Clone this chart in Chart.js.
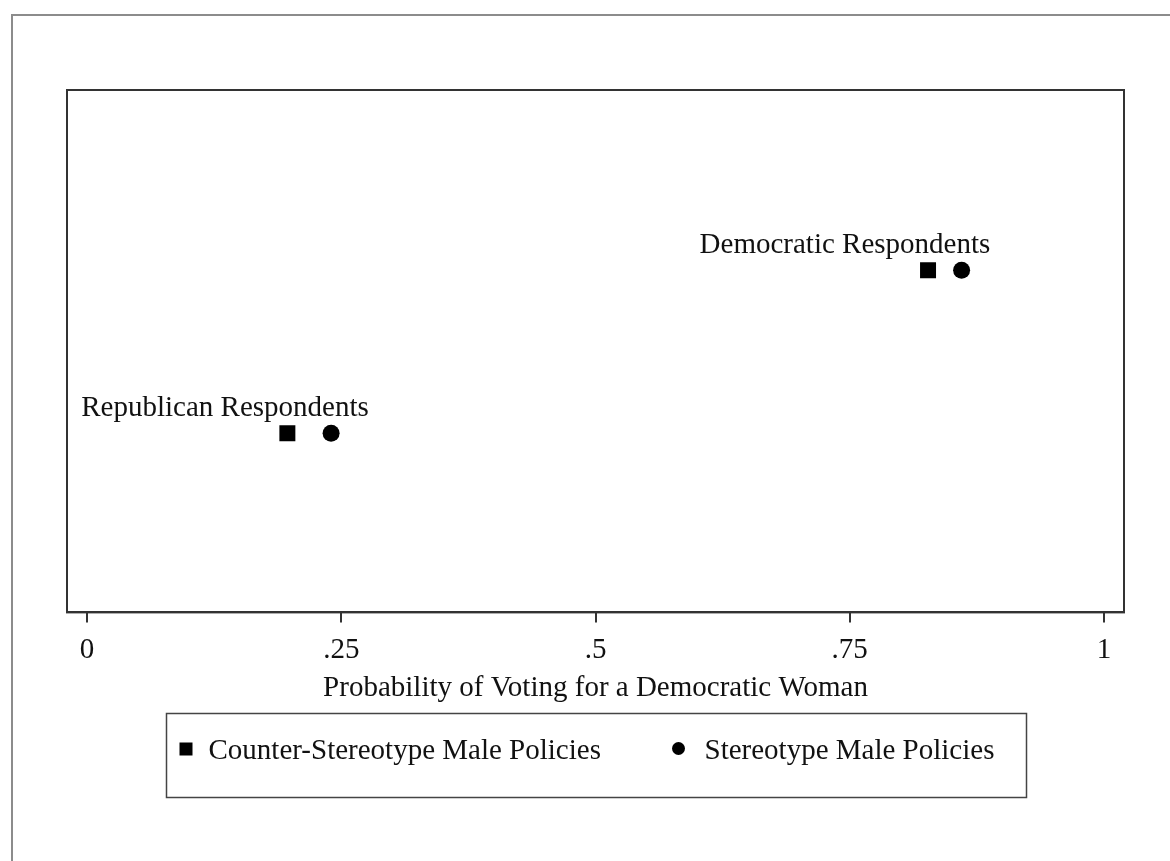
<!DOCTYPE html>
<html>
<head>
<meta charset="utf-8">
<script src="https://cdn.jsdelivr.net/npm/chart.js@4"></script>
<style>
  html, body { margin: 0; padding: 0; background: #fff; }
  #wrap { position: relative; width: 1170px; height: 861px; overflow: hidden; }
  #frame { position: absolute; left: 11px; top: 14px; width: 1300px; height: 1000px;
           border-top: 2px solid #8c8c8c; border-left: 2px solid #8c8c8c; }
  canvas { position: absolute; left: 0; top: 0; }
</style>
</head>
<body>
<div id="wrap">
  <div id="frame"></div>
  <canvas id="c" width="1170" height="861"></canvas>
</div>
<script>
// ---- data ----
const groups = ["Republican Respondents", "Democratic Respondents"];
const groupY = [0.343, 0.655];
const counterStereotype = [0.197, 0.827];
const stereotype = [0.240, 0.860];
const seriesNames = ["Counter-Stereotype Male Policies", "Stereotype Male Policies"];
const tickValues = [0, 0.25, 0.5, 0.75, 1];
const tickLabels = ["0", ".25", ".5", ".75", "1"];
const labelX = [0.1357, 0.7453];
const labelY = [0.391, 0.703];
const xTitle = "Probability of Voting for a Democratic Woman";

const FONT = "'Liberation Serif', 'Times New Roman', serif";
const FS = 29;
const INK = "#111";

const groupLabels = {
  id: 'groupLabels',
  afterDatasetsDraw(chart) {
    const {ctx, scales: {x, y}} = chart;
    ctx.save();
    ctx.font = FS + "px " + FONT;
    ctx.fillStyle = INK;
    ctx.textAlign = 'center';
    ctx.textBaseline = 'middle';
    groups.forEach((g, i) => {
      ctx.fillText(g, x.getPixelForValue(labelX[i]), y.getPixelForValue(labelY[i]));
    });
    ctx.restore();
  }
};

const plotBox = {
  id: 'plotBox',
  afterDraw(chart) {
    const {ctx, chartArea: a} = chart;
    ctx.save();
    ctx.strokeStyle = "#333";
    ctx.lineWidth = 2;
    ctx.strokeRect(a.left, a.top, a.right - a.left, a.bottom - a.top);
    ctx.restore();
  }
};

const boxLegend = {
  id: 'boxLegend',
  afterDraw(chart) {
    const {ctx, chartArea: a} = chart;
    const w = 860, h = 84;
    const cx = (a.left + a.right) / 2;
    const left = Math.round(cx - w / 2) + 0.5;
    const top = Math.round(a.bottom + 101) + 0.5;
    ctx.save();
    ctx.strokeStyle = "#444";
    ctx.lineWidth = 1.5;
    ctx.strokeRect(left, top, w, h);
    const my = top + 36;
    const ds = chart.data.datasets;
    ctx.fillStyle = "#000";
    ctx.fillRect(left + 13, my - 7, 13, 13);
    ctx.beginPath();
    ctx.arc(left + 512, my - 1, 6.5, 0, Math.PI * 2);
    ctx.fill();
    ctx.font = FS + "px " + FONT;
    ctx.fillStyle = INK;
    ctx.textBaseline = 'middle';
    ctx.textAlign = 'left';
    ctx.fillText(ds[0].label, left + 42, my + 2);
    ctx.fillText(ds[1].label, left + 538, my + 2);
    ctx.restore();
  }
};

new Chart(document.getElementById('c'), {
  type: 'scatter',
  data: {
    datasets: [
      {
        label: seriesNames[0],
        data: counterStereotype.map((v, i) => ({x: v, y: groupY[i]})),
        pointStyle: 'rect',
        pointRadius: 11.3,
        pointHoverRadius: 11.3,
        backgroundColor: '#000',
        borderColor: '#000',
        borderWidth: 0
      },
      {
        label: seriesNames[1],
        data: stereotype.map((v, i) => ({x: v, y: groupY[i]})),
        pointStyle: 'circle',
        pointRadius: 8.5,
        pointHoverRadius: 8.5,
        backgroundColor: '#000',
        borderColor: '#000',
        borderWidth: 0
      }
    ]
  },
  options: {
    responsive: false,
    animation: false,
    devicePixelRatio: 1,
    layout: { padding: { left: 67, right: 46, top: 90, bottom: 155 } },
    plugins: { legend: { display: false }, tooltip: { enabled: false } },
    scales: {
      x: {
        type: 'linear',
        min: -0.0197,
        max: 1.0197,
        afterBuildTicks(scale) { scale.ticks = tickValues.map(v => ({value: v})); },
        ticks: {
          callback(v) { const i = tickValues.indexOf(v); return i >= 0 ? tickLabels[i] : ''; },
          font: { family: FONT, size: FS },
          color: INK,
          padding: 11,
          maxRotation: 0,
          autoSkip: false
        },
        grid: { drawOnChartArea: false, drawTicks: true, tickLength: 10, color: '#333', lineWidth: 2 },
        border: { display: true, color: '#333', width: 2 },
        title: {
          display: true,
          text: xTitle,
          font: { family: FONT, size: FS },
          color: INK,
          padding: { top: -8, bottom: 0 }
        }
      },
      y: {
        type: 'linear',
        min: 0,
        max: 1,
        display: false
      }
    }
  },
  plugins: [groupLabels, plotBox, boxLegend]
});
</script>
</body>
</html>
